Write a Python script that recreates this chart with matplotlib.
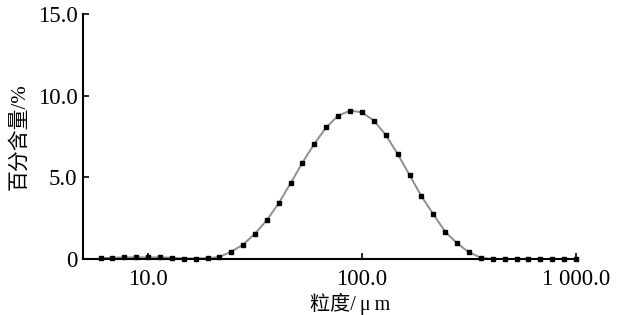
"""
plot.py — particle size distribution (粒度分布) curve.
"""

import matplotlib
matplotlib.use('Agg')
import matplotlib.pyplot as plt
from matplotlib.ticker import FixedLocator, FixedFormatter, NullLocator


# ── Data ─────────────────────────────────────────────────────────────────────

# particle size, µm (18 channels per decade, 6.0 → 1000)
size_um = [6.00, 6.81, 7.74, 8.80, 10.0, 11.4, 12.9, 14.7, 16.7, 19.0,
           21.5, 24.5, 27.8, 31.6, 35.9, 40.8, 46.4, 52.7, 59.9, 68.1,
           77.4, 88.0, 100.0, 113.6, 129.2, 146.8, 166.8, 189.6, 215.4, 244.8,
           278.3, 316.2, 359.4, 408.4, 464.2, 527.5, 599.5, 681.3, 774.3, 880.0,
           1000.0]

# volume percentage, %
percent = [0.05, 0.08, 0.10, 0.10, 0.10, 0.10, 0.08, 0.03, 0.03, 0.05,
           0.12, 0.45, 0.88, 1.55, 2.37, 3.41, 4.64, 5.90, 7.06, 8.06,
           8.78, 9.08, 8.98, 8.47, 7.59, 6.43, 5.14, 3.84, 2.74, 1.67,
           0.96, 0.41, 0.08, 0.0, 0.0, 0.0, 0.0, 0.0, 0.0, 0.0,
           0.0]

x_ticks = [10, 100, 1000]
x_tick_labels = ['10.0', '100.0', '1 000.0']
y_ticks = [0, 5, 10, 15]
y_tick_labels = ['0', '5.0', '10.0', '15.0']

SERIF_CJK = ['Liberation Serif', 'Noto Sans CJK SC', 'DejaVu Sans']


# ── Plot ─────────────────────────────────────────────────────────────────────

fig = plt.figure(figsize=(6.18, 3.15), dpi=100)
ax = fig.add_axes([83 / 618, 1 - 259 / 315, 493 / 618, 245 / 315])

ax.plot(size_um, percent, color='#8f8f8f', linewidth=1.4, zorder=2)
ax.plot(size_um, percent, linestyle='none', marker='s', markersize=3.3,
        color='black', zorder=3, clip_on=False)

ax.set_xscale('log')
ax.set_xlim(4.97, 1000)
ax.set_ylim(0, 15)

ax.xaxis.set_major_locator(FixedLocator(x_ticks))
ax.xaxis.set_major_formatter(FixedFormatter(x_tick_labels))
ax.xaxis.set_minor_locator(NullLocator())
ax.yaxis.set_major_locator(FixedLocator(y_ticks))
ax.yaxis.set_major_formatter(FixedFormatter(y_tick_labels))

for side in ('top', 'right'):
    ax.spines[side].set_visible(False)
for side in ('left', 'bottom'):
    ax.spines[side].set_linewidth(1.5)
    ax.spines[side].set_color('black')

ax.tick_params(axis='both', direction='in', length=4.5, width=1.2,
               labelsize=16.5, colors='black')
ax.tick_params(axis='y', pad=4)
ax.tick_params(axis='x', pad=7)
for lab in ax.get_xticklabels() + ax.get_yticklabels():
    lab.set_family(SERIF_CJK)

fig.text(350 / 618, 1 - 304 / 315, '粒度/\u2009μ\u2009m', ha='center',
         va='center', fontsize=14.5, family=SERIF_CJK)
fig.text(20 / 618, 1 - 137 / 315, '百分含量/%', ha='center', va='center',
         rotation=90, fontsize=15, family=SERIF_CJK)

fig.savefig('out.png', dpi=100)
